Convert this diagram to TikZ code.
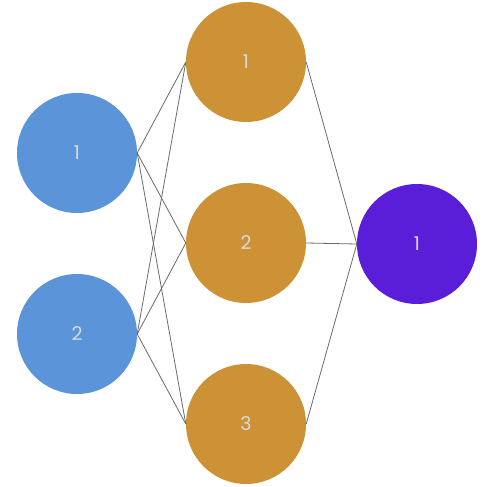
\documentclass[tikz,border=0pt]{standalone}
\usepackage{fontspec}
\setmainfont{Poppins}
\definecolor{inblue}{HTML}{5C94DA}
\definecolor{hidgold}{HTML}{CC9235}
\definecolor{outpurple}{HTML}{5B1ED8}
\definecolor{edgegray}{HTML}{6A6A6A}
\begin{document}
\begin{tikzpicture}[x=1pt,y=-1pt,
  neuron/.style={circle,minimum size=120pt,inner sep=0pt,text=white!85!black,font=\fontsize{19}{19}\selectfont},
  inneuron/.style={neuron,fill=inblue},
  hidneuron/.style={neuron,fill=hidgold},
  outneuron/.style={neuron,fill=outpurple},
  link/.style={draw=edgegray,line width=0.8pt}]
\useasboundingbox (0,0) rectangle (485,487);
% input layer
\node[inneuron] (i1) at (77,153) {1};
\node[inneuron] (i2) at (77,334) {2};
% hidden layer
\node[hidneuron] (h1) at (246,62) {1};
\node[hidneuron] (h2) at (246,243) {2};
\node[hidneuron] (h3) at (246,424) {3};
% output layer
\node[outneuron] (o1) at (417,244) {1};
% connections
\foreach \a in {i1,i2}{
  \foreach \b in {h1,h2,h3}{
    \draw[link] (\a.east) -- (\b.west);
  }
}
\foreach \b in {h1,h2,h3}{
  \draw[link] (\b.east) -- (o1.west);
}
\end{tikzpicture}
\end{document}
